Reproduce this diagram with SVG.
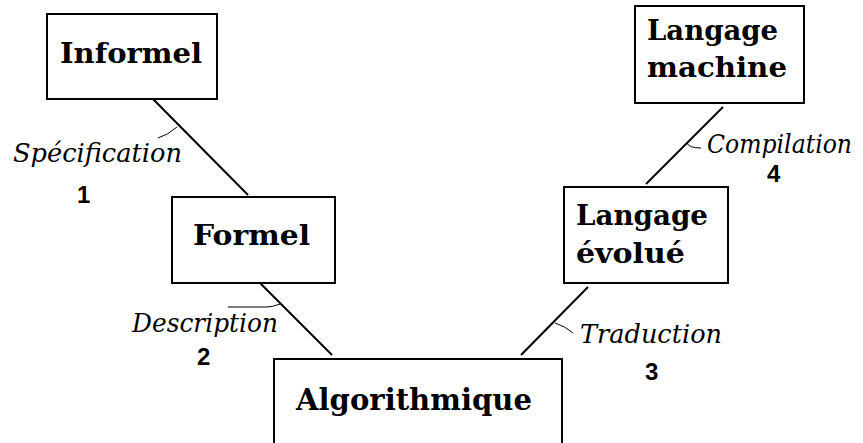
<svg xmlns="http://www.w3.org/2000/svg" width="863" height="443" viewBox="0 0 863 443">
<style>
.box{fill:#fff;stroke:#000;stroke-width:2}
.t{font-family:"DejaVu Serif",serif;font-weight:bold;font-size:27px;fill:#000}
.lab{font-family:"DejaVu Serif",serif;font-style:italic;font-size:26px;fill:#000}
.num{font-family:"Liberation Sans",Arial,sans-serif;font-weight:bold;font-size:24px;fill:#000}
.c{stroke:#000;stroke-width:2;fill:none}
.tick{stroke:#000;stroke-width:1;fill:none}
</style>
<rect width="863" height="443" fill="#fff"/>
<g id="connectors">
<line class="c" x1="151" y1="97" x2="248" y2="195"/>
<path class="tick" d="M177,127 Q168,135 158,138"/>
<line class="c" x1="259" y1="282" x2="332" y2="355"/>
<path class="tick" d="M280,304 Q272,307 267,307 L228,307"/>
<line class="c" x1="588" y1="287" x2="521" y2="355"/>
<path class="tick" d="M555,323 Q565,326 573,333"/>
<line class="c" x1="723" y1="107" x2="646" y2="184"/>
<path class="tick" d="M687,143 Q689,148 701,148"/>
<text class="lab" x="13" y="162" textLength="169" lengthAdjust="spacingAndGlyphs">Spécification</text>
<text class="num" x="77" y="203">1</text>
<text class="lab" x="132" y="332" textLength="146" lengthAdjust="spacingAndGlyphs">Description</text>
<text class="num" x="197" y="365">2</text>
<text class="lab" x="580" y="343" textLength="142" lengthAdjust="spacingAndGlyphs">Traduction</text>
<text class="num" x="645" y="380">3</text>
<text class="lab" x="707" y="153" textLength="145" lengthAdjust="spacingAndGlyphs">Compilation</text>
<text class="num" x="767" y="182">4</text>
</g>
<g id="informel">
<rect class="box" x="47" y="14" width="170" height="85"/>
<text class="t" x="60" y="63" textLength="142" lengthAdjust="spacingAndGlyphs">Informel</text>
</g>
<g id="formel">
<rect class="box" x="172" y="197" width="163" height="86"/>
<text class="t" x="193" y="245" textLength="117" lengthAdjust="spacingAndGlyphs">Formel</text>
</g>
<g id="algorithmique">
<rect class="box" x="274" y="359" width="288" height="100"/>
<text class="t" x="296" y="410" style="font-size:29px" textLength="236" lengthAdjust="spacingAndGlyphs">Algorithmique</text>
</g>
<g id="langage-evolue">
<rect class="box" x="564" y="187" width="164" height="96"/>
<text class="t" x="576" y="225" textLength="132" lengthAdjust="spacingAndGlyphs">Langage</text>
<text class="t" x="576" y="263" textLength="109" lengthAdjust="spacingAndGlyphs">évolué</text>
</g>
<g id="langage-machine">
<rect class="box" x="635" y="6" width="169" height="97"/>
<text class="t" x="647" y="40" textLength="131" lengthAdjust="spacingAndGlyphs">Langage</text>
<text class="t" x="647" y="77" textLength="140" lengthAdjust="spacingAndGlyphs">machine</text>
</g>
</svg>
